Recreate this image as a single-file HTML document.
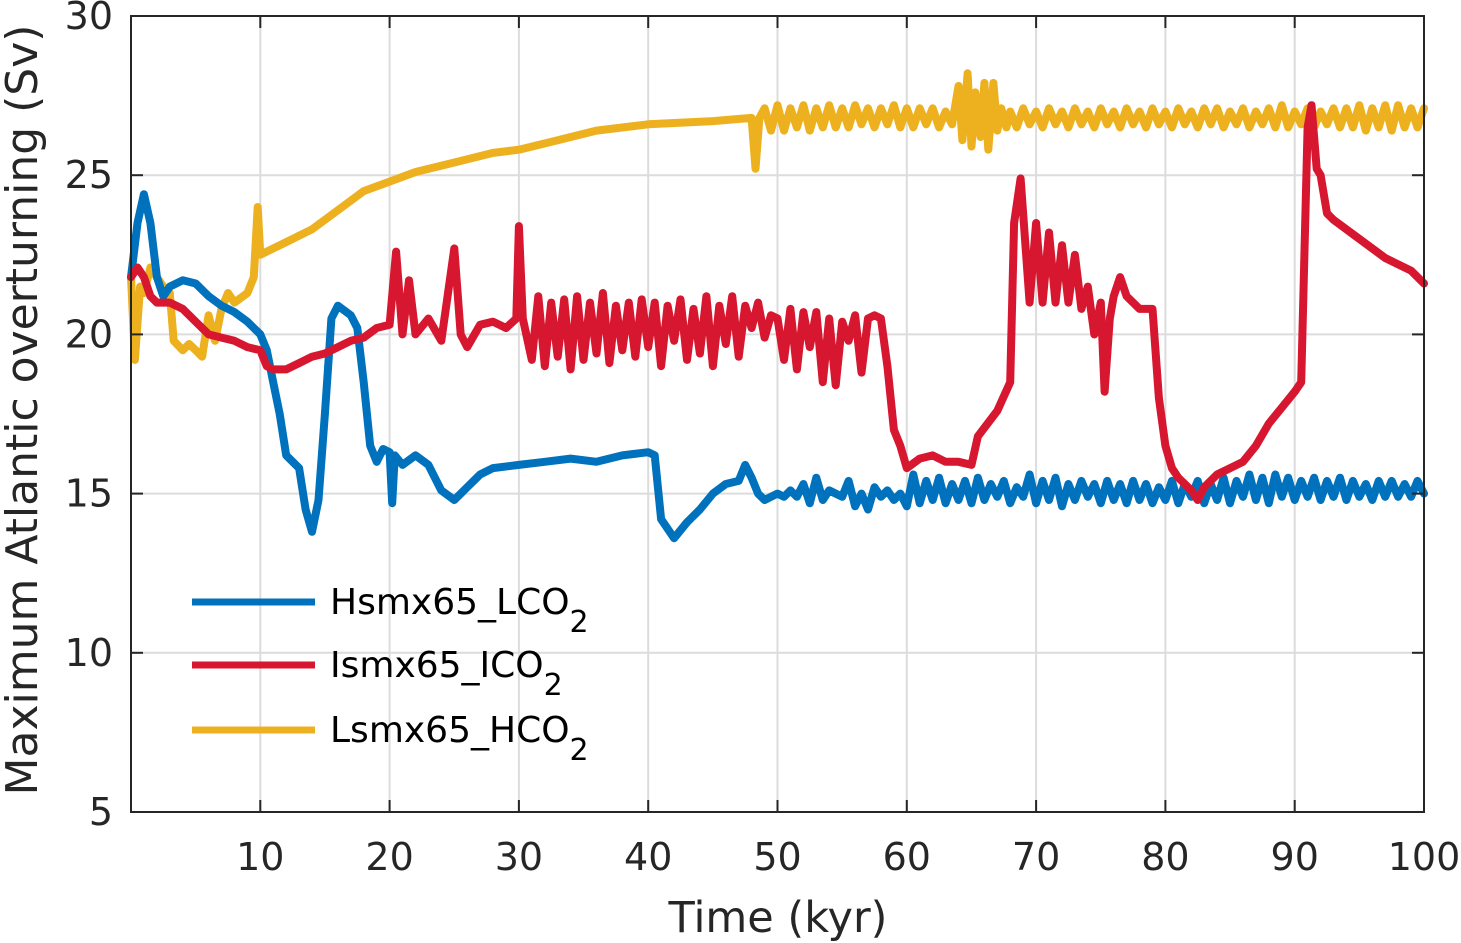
<!DOCTYPE html>
<html><head><meta charset="utf-8">
<style>
html,body{margin:0;padding:0;background:#fff;}
svg{display:block;font-family:"DejaVu Sans","Liberation Sans",sans-serif;}
</style></head>
<body>
<svg id="chart" width="1461" height="943" viewBox="0 0 1461 943">
<g id="grid"></g>
<g id="series"></g>
<g id="axes"></g>
<text x="778" y="932" font-size="43" text-anchor="middle" fill="#262626">Time (kyr)</text>
<text transform="translate(37,410) rotate(-90)" font-size="44" text-anchor="middle" fill="#262626">Maximum Atlantic overturning (Sv)</text>
<g id="legend"></g>
</svg>
<script>
const xTicks=[10,20,30,40,50,60,70,80,90,100];
const yTicks=[5,10,15,20,25,30];
const seriesNames=["Hsmx65_LCO","Ismx65_ICO","Lsmx65_HCO"];
const seriesColors=["#0072BD","#D7172F","#EDB120"];
const blueT=[0,0.5,1,1.5,2,2.5,3,4,5,6,7,8,9,10,10.5,11,11.5,12,13,13.5,14,14.5,15,15.5,16,17,17.5,18,18.5,19,19.5,20,20.2,20.4,21,22,23,24,25,26,27,28,30,32,34,36,38,40,40.5,41,42,43,44,45,46,47,47.5,48,48.5,49,50,50.5,51,51.5,52,52.5,53,53.5,54,54.5,55,55.5,56,56.5,57,57.5,58,58.5,59,59.5,60,60.5,61,61.5,62,62.5,63,63.5,64,64.5,65,65.5,66,66.5,67,67.5,68,68.5,69,69.5,70,70.5,71,71.5,72,72.5,73,73.5,74,74.5,75,75.5,76,76.5,77,77.5,78,78.5,79,79.5,80,80.5,81,81.5,82,82.5,83,83.5,84,84.5,85,85.5,86,86.5,87,87.5,88,88.5,89,89.5,90,90.5,91,91.5,92,92.5,93,93.5,94,94.5,95,95.5,96,96.5,97,97.5,98,98.5,99,99.5,100];
const blueV=[21.8,23.5,24.4,23.5,21.8,21.2,21.5,21.7,21.6,21.2,20.9,20.7,20.4,20.0,19.5,18.5,17.5,16.2,15.8,14.5,13.8,14.8,17.5,20.5,20.9,20.6,20.2,18.5,16.5,16.0,16.4,16.3,14.7,16.2,15.9,16.2,15.9,15.1,14.8,15.2,15.6,15.8,15.9,16.0,16.1,16.0,16.2,16.3,16.2,14.2,13.6,14.1,14.5,15.0,15.3,15.4,15.9,15.5,15.0,14.8,15.0,14.9,15.1,14.9,15.3,14.7,15.5,14.8,15.1,15.0,14.9,15.4,14.6,15.0,14.5,15.2,14.9,15.1,14.8,15.0,14.6,15.6,14.7,15.4,14.8,15.5,14.7,15.3,14.8,15.4,14.7,15.5,14.8,15.3,14.9,15.4,14.7,15.2,14.9,15.6,14.7,15.4,14.8,15.5,14.6,15.3,14.8,15.4,14.9,15.3,14.7,15.4,14.8,15.3,14.7,15.4,14.8,15.3,14.7,15.2,14.8,15.4,14.7,15.3,14.9,15.4,14.7,15.3,14.8,15.5,14.7,15.4,14.9,15.6,14.8,15.5,14.7,15.6,14.9,15.5,14.8,15.4,14.9,15.5,14.8,15.4,14.9,15.5,14.8,15.4,14.9,15.3,14.8,15.4,14.9,15.4,14.9,15.3,14.9,15.4,15.0,15.0];
const redT=[0,0.5,1,1.5,2,3,4,5,6,7,8,9,10,10.5,11,12,13,14,15,16,17,18,19,20,20.5,21,21.5,22,23,24,25,25.5,26,27,28,29,29.8,30,30.3,31,31.5,32,32.5,33,33.5,34,34.5,35,35.5,36,36.5,37,37.5,38,38.5,39,39.5,40,40.5,41,41.5,42,42.5,43,43.5,44,44.5,45,45.5,46,46.5,47,47.5,48,48.5,49,49.5,50,50.5,51,51.5,52,52.5,53,53.5,54,54.5,55,55.5,56,56.5,57,57.5,58,58.5,59,59.5,60,61,62,63,64,65,65.5,67,68,68.3,68.8,69.5,70,70.5,71,71.5,72,72.5,73,73.5,74,74.5,75,75.3,75.7,76,76.5,77,78,79,79.5,80,80.5,81,82,82.5,83,84,86,87,88,89,90,90.5,91,91.3,91.7,92,92.5,93,95,97,99,100];
const redV=[21.8,22.1,21.8,21.2,21.0,21.0,20.8,20.4,20.0,19.9,19.8,19.6,19.5,19.0,18.9,18.9,19.1,19.3,19.4,19.6,19.8,19.9,20.2,20.3,22.6,20.0,21.7,20.0,20.5,19.8,22.7,20.0,19.6,20.3,20.4,20.2,20.5,23.4,20.5,19.2,21.2,19.0,21.0,19.3,21.1,18.9,21.2,19.2,21.0,19.4,21.3,19.1,20.9,19.5,21.0,19.3,21.1,19.6,21.0,19.0,20.9,19.8,21.1,19.2,20.8,19.4,21.2,19.0,20.9,19.7,21.2,19.3,20.9,20.2,21.0,19.9,20.6,20.5,19.2,20.8,18.9,20.7,19.6,20.7,18.5,20.5,18.4,20.4,19.8,20.6,18.8,20.5,20.6,20.5,19.0,17.0,16.5,15.8,16.1,16.2,16.0,16.0,15.9,16.8,17.6,18.5,23.5,24.9,21.0,23.5,21.0,23.2,21.0,22.8,21.0,22.5,20.8,21.5,20.0,21.0,18.2,20.5,21.2,21.8,21.2,20.8,20.8,18.0,16.5,15.8,15.5,15.1,14.8,15.2,15.6,16.0,16.5,17.2,17.7,18.2,18.5,26.5,27.2,25.2,25.0,23.8,23.6,23.0,22.4,22.0,21.6];
const yelT=[0,0.3,0.7,1,1.5,2,2.5,3,3.3,4,4.5,5,5.5,6,6.5,7,7.5,8,9,9.5,9.8,10,11,12,13,14,15,16,17,18,20,22,25,28,30,33,36,40,45,48,48.3,48.6,49,49.5,50,50.5,51,51.5,52,52.5,53,53.5,54,54.5,55,55.5,56,56.5,57,57.5,58,58.5,59,59.5,60,60.5,61,61.5,62,62.5,63,63.5,64,64.3,64.7,65,65.3,65.7,66,66.3,66.7,67,67.3,67.7,68,68.5,69,69.5,70,70.5,71,71.5,72,72.5,73,73.5,74,74.5,75,75.5,76,76.5,77,77.5,78,78.5,79,79.5,80,80.5,81,81.5,82,82.5,83,83.5,84,84.5,85,85.5,86,86.5,87,87.5,88,88.5,89,89.5,90,90.5,91,91.5,92,92.5,93,93.5,94,94.5,95,95.5,96,96.5,97,97.5,98,98.5,99,99.5,100];
const yelV=[21.8,19.2,21.5,21.3,22.1,21.8,21.5,21.3,19.8,19.5,19.7,19.5,19.3,20.6,19.8,20.8,21.3,21.0,21.3,21.8,24.0,22.5,22.7,22.9,23.1,23.3,23.6,23.9,24.2,24.5,24.8,25.1,25.4,25.7,25.8,26.1,26.4,26.6,26.7,26.8,25.2,26.8,27.1,26.4,27.2,26.4,27.1,26.5,27.2,26.4,27.1,26.5,27.2,26.5,27.1,26.5,27.2,26.6,27.1,26.5,27.1,26.6,27.2,26.5,27.1,26.5,27.1,26.6,27.1,26.5,27.0,26.6,27.8,26.1,28.2,25.9,27.6,26.2,27.9,25.8,27.9,26.4,27.1,26.5,27.0,26.5,27.1,26.6,27.0,26.5,27.1,26.6,27.0,26.5,27.1,26.6,27.0,26.5,27.1,26.6,27.0,26.5,27.1,26.6,27.0,26.5,27.1,26.6,27.0,26.5,27.1,26.6,27.0,26.5,27.1,26.6,27.1,26.5,27.0,26.6,27.1,26.5,27.0,26.6,27.1,26.5,27.2,26.5,27.0,26.6,27.1,26.5,27.0,26.6,27.1,26.5,27.1,26.5,27.2,26.4,27.1,26.5,27.2,26.4,27.2,26.5,27.1,26.5,27.1,26.6,27.0];
const X0=131,X1=1424,Y0=812,Y1=16;
const xs=t=>X0+(t-0)/(100-0)*(X1-X0);
const ys=v=>Y0-(v-5)/(30-5)*(Y0-Y1);
const NS="http://www.w3.org/2000/svg";
function mk(tag,attrs,parent){const e=document.createElementNS(NS,tag);for(const k in attrs)e.setAttribute(k,attrs[k]);parent.appendChild(e);return e;}
const grid=document.getElementById('grid'),axes=document.getElementById('axes'),ser=document.getElementById('series'),leg=document.getElementById('legend');
xTicks.forEach(t=>{
 const g=mk('line',{x1:xs(t),x2:xs(t),y1:Y1,y2:Y0,stroke:'#dcdcdc','stroke-width':2},grid);
 
 
 const tk=mk('line',{x1:xs(t),x2:xs(t),y1:Y0,y2:Y0-12,stroke:'#262626','stroke-width':2},axes);
 
 
 const tk2=mk('line',{x1:xs(t),x2:xs(t),y1:Y1,y2:Y1+12,stroke:'#262626','stroke-width':2},axes);
 
 
 const lb=mk('text',{x:xs(t),y:870,'font-size':38,'text-anchor':'middle',fill:'#262626'},axes);
 lb.textContent=t;
 
 
});
yTicks.forEach(v=>{
 const g=mk('line',{x1:X0,x2:X1,y1:ys(v),y2:ys(v),stroke:'#dcdcdc','stroke-width':2},grid);
 
 
 const tk=mk('line',{x1:X0,x2:X0+12,y1:ys(v),y2:ys(v),stroke:'#262626','stroke-width':2},axes);
 
 
 const tk2=mk('line',{x1:X1,x2:X1-12,y1:ys(v),y2:ys(v),stroke:'#262626','stroke-width':2},axes);
 
 
 const lb=mk('text',{x:113,y:ys(v)+13,'font-size':38,'text-anchor':'end',fill:'#262626'},axes);
 lb.textContent=v;
 
 
});
const box=mk('rect',{x:X0,y:Y1,width:X1-X0,height:Y0-Y1,fill:'none',stroke:'#262626','stroke-width':2},axes);


const data=[[blueT,blueV],[redT,redV],[yelT,yelV]];
const lineNames=['line-hsmx65-lco2','line-ismx65-ico2','line-lsmx65-hco2'];
[2,0,1].forEach(i=>{
 const [T,V]=data[i];
 const n=Math.min(T.length,V.length);
 let d='';
 for(let j=0;j<n;j++){d+=(j?'L':'M')+xs(T[j]).toFixed(1)+','+ys(V[j]).toFixed(1);}
 const p=mk('path',{d:d,fill:'none',stroke:seriesColors[i],'stroke-width':8,'stroke-linejoin':'round','stroke-linecap':'round'},ser);
 
 
});
const legY=[602,665,730];
seriesNames.forEach((n,i)=>{
 const l=mk('line',{x1:192,x2:315,y1:legY[i],y2:legY[i],stroke:seriesColors[i],'stroke-width':7},leg);
 
 
 const tx=mk('text',{x:330,y:legY[i]+12,'font-size':36,fill:'#000'},leg);
 tx.textContent=n;
 const sub=mk('tspan',{dy:18,'font-size':30},tx);
 sub.textContent='2';
 
 
});
</script>
</body></html>
